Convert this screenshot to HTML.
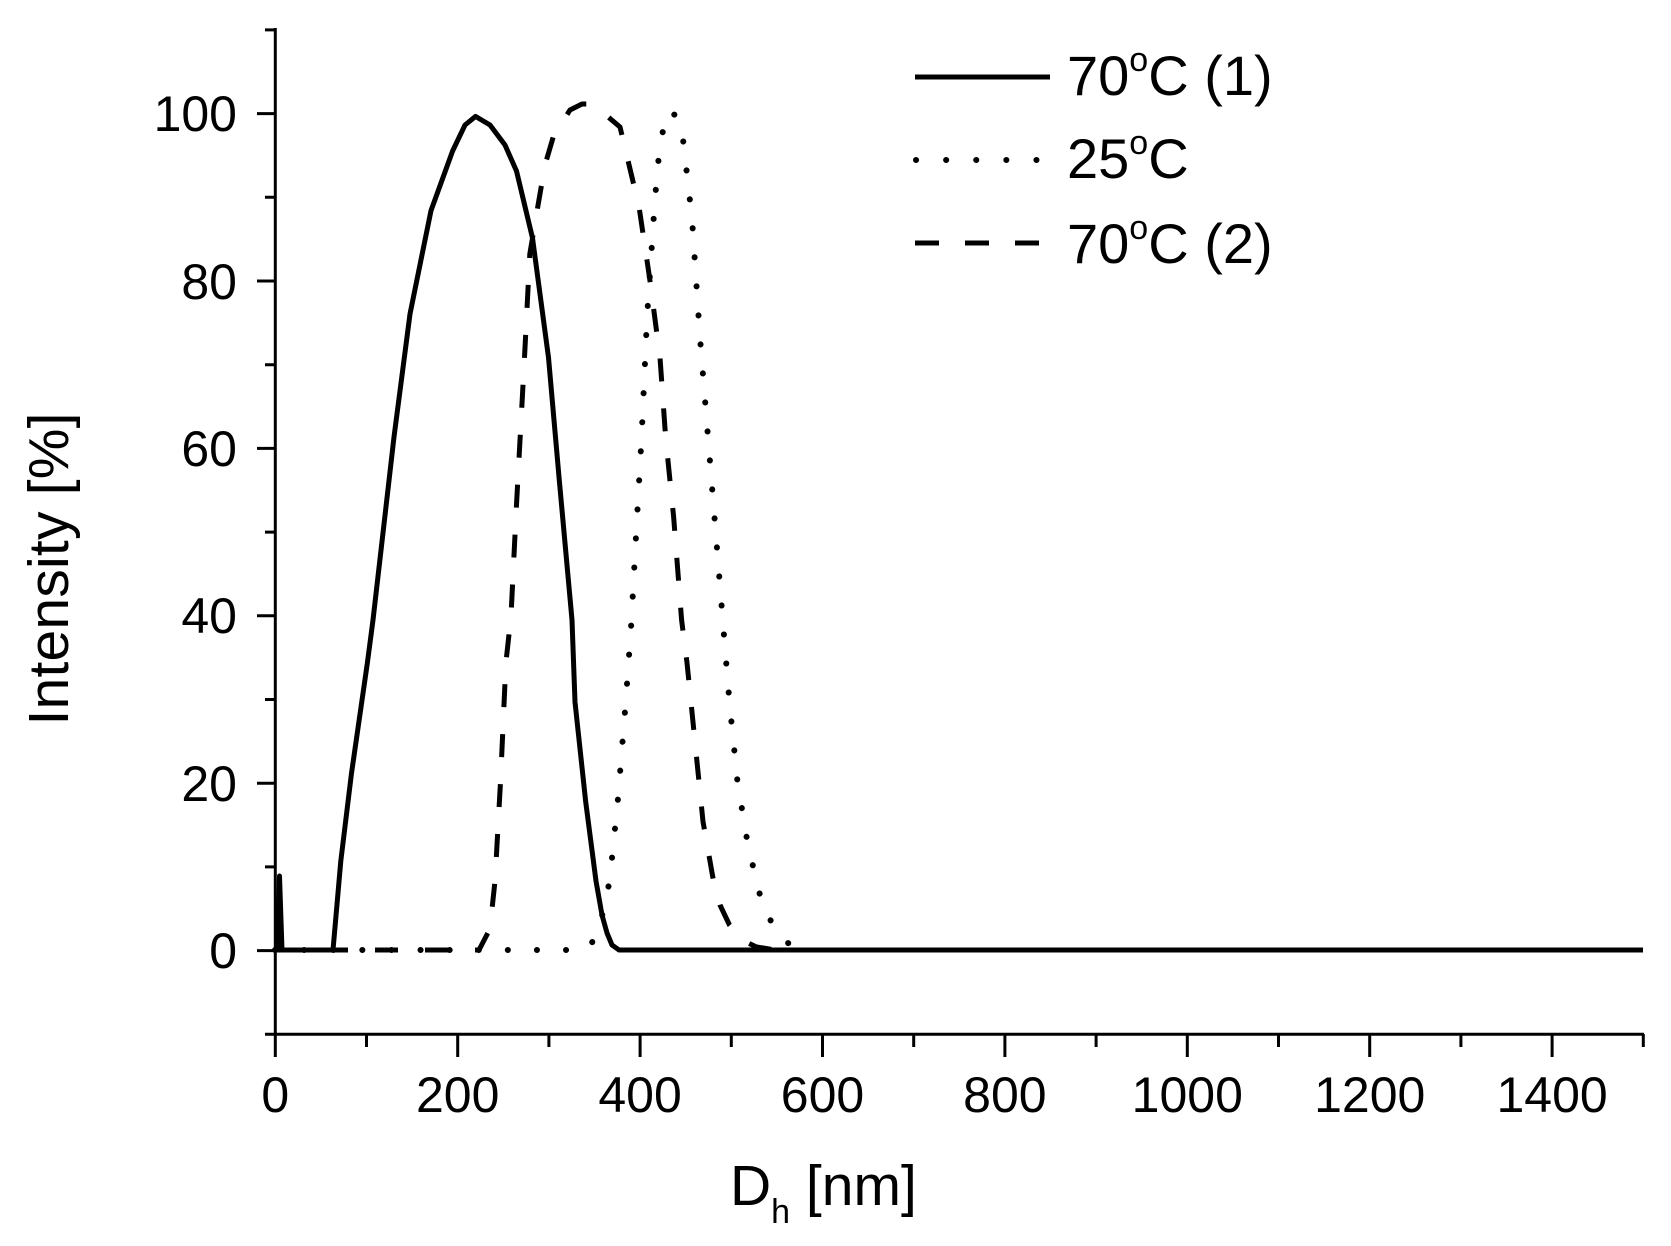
<!DOCTYPE html>
<html><head><meta charset="utf-8"><style>html,body{margin:0;padding:0;background:#fff}svg{display:block}</style></head>
<body>
<svg width="1671" height="1246" viewBox="0 0 1671 1246" xmlns="http://www.w3.org/2000/svg" font-family="Liberation Sans, Arial, sans-serif">
<rect width="1671" height="1246" fill="#fff"/>
<g stroke="#000" stroke-width="3" fill="none">
<line x1="275.3" y1="28" x2="275.3" y2="1035"/>
<line x1="274" y1="1034.3" x2="1644" y2="1034.3"/>
<!-- y ticks -->
<path d="M257,950.6H275 M257,783.2H275 M257,615.8H275 M257,448.4H275 M257,281H275 M257,113.6H275 M265,1034.3H275 M265,866.9H275 M265,699.5H275 M265,532.1H275 M265,364.7H275 M265,197.3H275 M265,29.9H275"/>
<!-- x ticks -->
<path d="M275.3,1034V1057 M457.7,1034V1057 M640.1,1034V1057 M822.5,1034V1057 M1004.9,1034V1057 M1187.3,1034V1057 M1369.7,1034V1057 M1552.1,1034V1057 M366.5,1034V1047 M548.9,1034V1047 M731.3,1034V1047 M913.7,1034V1047 M1096.1,1034V1047 M1278.5,1034V1047 M1460.9,1034V1047 M1643.3,1034V1047"/>
</g>
<g font-size="50" fill="#000" text-anchor="end">
<text x="237" y="968">0</text>
<text x="237" y="801">20</text>
<text x="237" y="633">40</text>
<text x="237" y="466">60</text>
<text x="237" y="299">80</text>
<text x="237" y="131">100</text>
</g>
<g font-size="50" fill="#000" text-anchor="middle">
<text x="275.3" y="1112">0</text>
<text x="457.7" y="1112">200</text>
<text x="640.1" y="1112">400</text>
<text x="822.5" y="1112">600</text>
<text x="1004.9" y="1112">800</text>
<text x="1187.3" y="1112">1000</text>
<text x="1369.7" y="1112">1200</text>
<text x="1552.1" y="1112">1400</text>
</g>
<text transform="translate(68,569) rotate(-90)" font-size="57" text-anchor="middle" textLength="313">Intensity [%]</text>
<text x="730" y="1205" font-size="57">D<tspan font-size="34" dy="18">h</tspan><tspan dy="-18"> [nm]</tspan></text>
<!-- series -->
<g fill="none" stroke="#000" stroke-linejoin="round">
<path stroke-width="5" d="M275,950 L278,950 L279.5,876 L282,950 L333,950 L340.8,861 L351.4,774 L367.4,662.7 L373,620 L394,437 L410,314 L431,210.6 L452.6,151 L465,125 L475.5,116.4 L490,125 L505,145 L516.5,171 L532.5,238 L548.5,357.5 L559,477 L572,620 L575,702 L585.7,801.8 L596,881 L602,915 L607,933 L612,945 L619,950 L1643,950"/>
<path stroke-width="5" stroke-dasharray="23 27" d="M275,950 L479,950 L489.9,929 L495,881 L500.5,782 L505.9,662.7 L511,616 L516.5,504.6 L524.5,357.5 L529.8,254 L537.8,206.6 L545,165 L553.8,135 L570,110 L582,104 L591,104 L600,110 L620,127 L639,206.6 L649.6,278 L660,357.5 L665.6,437 L673.6,516.5 L681.6,620 L687,662.7 L695,742 L703,821.6 L713.5,881 L720,905 L729.5,925 L742,940 L756,946.8 L775,950 L800,950"/>
<path stroke-width="6" stroke-linecap="round" stroke-dasharray="0.1 29" d="M275,950 L580,950 L591,944.8 L600,925 L609.7,881 L617.7,801.8 L625.7,702.5 L631,628 L636,536 L641.6,437 L647,318 L655,198.6 L660,143 L668,111 L675,115 L681.6,127 L692,218.5 L700,337.7 L708,437 L716,536 L724,635.7 L729.5,702.5 L737.5,782 L748,845.5 L761.4,901 L774.7,929 L790,945 L800,950"/>
</g>
<!-- legend -->
<g stroke="#000" fill="none">
<line x1="915" y1="77" x2="1050" y2="77" stroke-width="5"/>
<line x1="916" y1="160" x2="1045" y2="160" stroke-width="6" stroke-linecap="round" stroke-dasharray="0.1 30"/>
<line x1="915" y1="243" x2="1040" y2="243" stroke-width="5" stroke-dasharray="24 26"/>
</g>
<g font-size="56" fill="#000">
<text x="1067" y="95">70<tspan font-size="34" dy="-24">o</tspan><tspan dy="24">C (1)</tspan></text>
<text x="1067" y="178">25<tspan font-size="34" dy="-24">o</tspan><tspan dy="24">C</tspan></text>
<text x="1067" y="263">70<tspan font-size="34" dy="-24">o</tspan><tspan dy="24">C (2)</tspan></text>
</g>
</svg>
</body></html>
